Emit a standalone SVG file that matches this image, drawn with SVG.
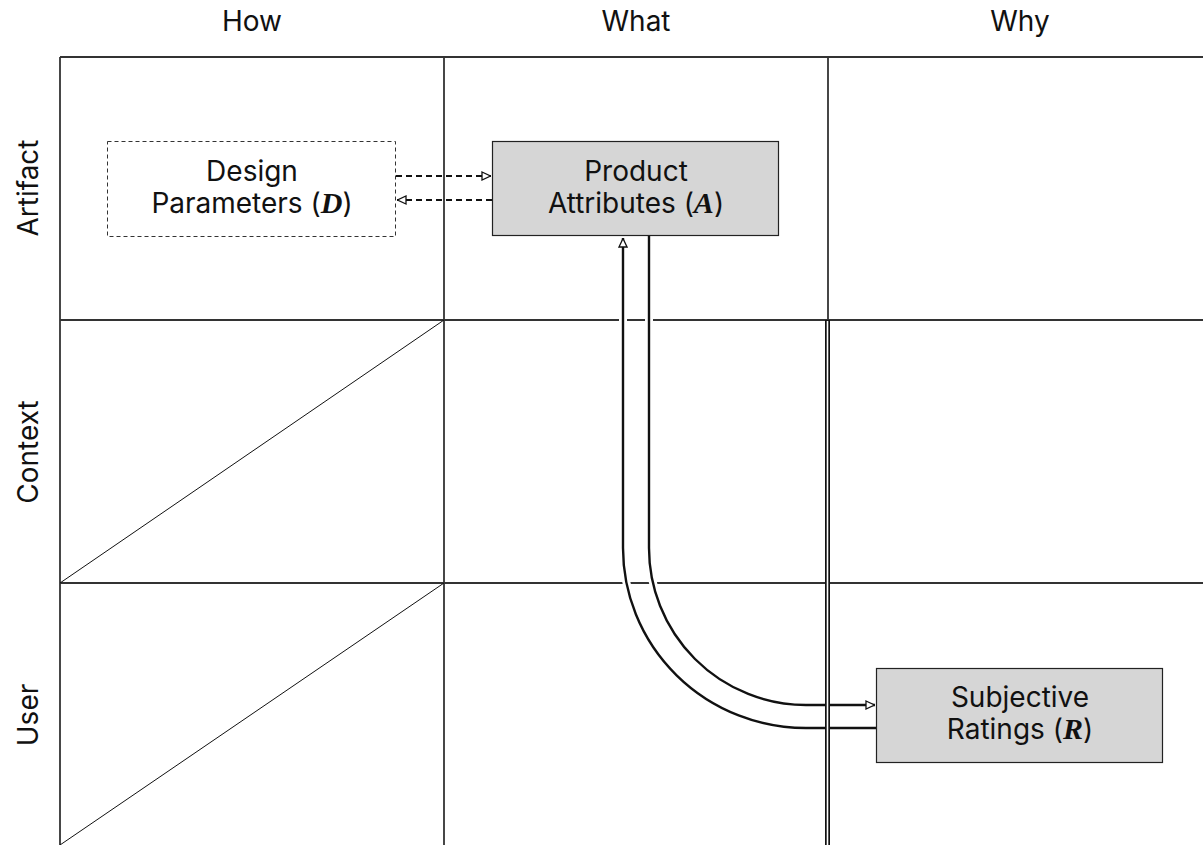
<svg xmlns="http://www.w3.org/2000/svg" width="1203" height="845" viewBox="0 0 1203 845">
  <style>
    .lbl { font-family: Inter, "Liberation Sans", sans-serif; font-size: 28px; fill: #111; text-anchor: middle; }
    .var { font-family: "Liberation Serif", "Times New Roman", serif; font-weight: bold; font-style: italic; font-size: 30px; }
    .grid { stroke: #333; stroke-width: 1.8; fill: none; }
    .diag { stroke: #111; stroke-width: 1; fill: none; }
    .box { fill: #d6d6d6; stroke: #222; stroke-width: 1.2; }
    .dbox { fill: #fff; stroke: #333; stroke-width: 1; stroke-dasharray: 4 3; }
    .dash { stroke: #111; stroke-width: 2.2; fill: none; stroke-dasharray: 6 4; }
    .flow { stroke: #111; stroke-width: 2.4; fill: none; }
    .halo { stroke: #fff; stroke-width: 8; fill: none; }
  </style>
  <defs>
    <marker id="tri" viewBox="0 0 10 10" refX="10" refY="5" markerWidth="10" markerHeight="10" markerUnits="userSpaceOnUse" orient="auto">
      <path d="M1,1 L9.5,5 L1,9 Z" fill="#fff" stroke="#111" stroke-width="1.3"/>
    </marker>
  </defs>
  <rect width="1203" height="845" fill="#fff"/>

  <!-- column and row headings -->
  <g id="headings">
    <text class="lbl" x="252" y="31">How</text>
    <text class="lbl" x="636" y="31">What</text>
    <text class="lbl" x="1020" y="31">Why</text>
    <text class="lbl" transform="translate(38,188) rotate(-90)">Artifact</text>
    <text class="lbl" transform="translate(38,452) rotate(-90)">Context</text>
    <text class="lbl" transform="translate(38,715) rotate(-90)">User</text>
  </g>

  <!-- matrix grid -->
  <g id="grid">
    <path class="grid" d="M60,57 H1203 M60,320 H1203 M60,583 H1203 M60,57 V845 M444,57 V845 M828,57 V320"/>
    <path class="diag" d="M60,583 L444,320 M60,845 L444,583"/>
  </g>

  <!-- connectors -->
  <g id="connectors">
    <path class="dash" d="M396,176 H491" marker-end="url(#tri)"/>
    <path class="dash" d="M492,200 H397" marker-end="url(#tri)"/>
    <path class="halo" d="M876,728 H806 A183,180 0 0 1 623,548 V252"/>
    <path class="halo" d="M649,240 V548 A157,157 0 0 0 806,705 H860"/>
    <path class="flow" d="M876,728 H806 A183,180 0 0 1 623,548 V238" marker-end="url(#tri)"/>
    <path class="flow" d="M649,236 V548 A157,157 0 0 0 806,705 H875" marker-end="url(#tri)"/>
  </g>

  <!-- divider between What and Why in the lower rows, drawn as a double rule -->
  <g id="divider">
    <path d="M827.5,320 V845" stroke="#111" stroke-width="5" fill="none"/>
    <path d="M827.5,321 V845" stroke="#fff" stroke-width="1.6" fill="none"/>
  </g>

  <g id="node-D">
    <rect class="dbox" x="107.5" y="141.5" width="288" height="95"/>
    <text class="lbl" x="252" y="181">Design</text>
    <text class="lbl" x="252" y="213">Parameters (<tspan class="var">D</tspan>)</text>
  </g>

  <g id="node-A">
    <rect class="box" x="492.5" y="141.5" width="286" height="94"/>
    <text class="lbl" x="636" y="181">Product</text>
    <text class="lbl" x="636" y="213">Attributes (<tspan class="var">A</tspan>)</text>
  </g>

  <g id="node-R">
    <rect class="box" x="876.5" y="668.5" width="286" height="94"/>
    <text class="lbl" x="1020" y="707">Subjective</text>
    <text class="lbl" x="1020" y="739">Ratings (<tspan class="var">R</tspan>)</text>
  </g>
</svg>
